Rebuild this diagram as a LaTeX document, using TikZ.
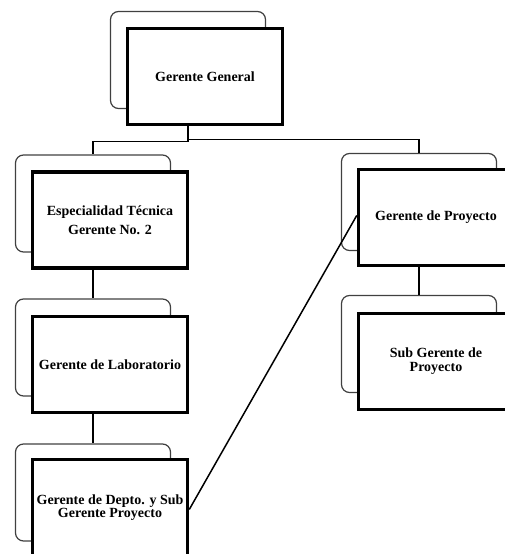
\documentclass[tikz,border=0pt]{standalone}
\usepackage{fontspec}
\setmainfont{Liberation Serif}
\usepackage{tikz}

\begin{document}
\begin{tikzpicture}[x = 1pt, y = 1pt,
                        back/.style = {rectangle, draw = black!75, line width = 1.2pt, rounded corners = 8pt,
                                       minimum width = 155pt, minimum height = 97pt},
                        front/.style = {rectangle, draw, fill = white, line width = 3.5pt, align = center,
                                        minimum width = 155pt, minimum height = 96pt,
                                        font = \fontsize{14}{15}\selectfont\bfseries},
                        link/.style = {line width = 1.5pt}]
      \useasboundingbox (0, 0) rectangle (505, 554);
      \clip (0, 0) rectangle (505, 554);
      \node [back] (ggb) at (188, 494){};
      \node [back] (espb) at (93, 350.5){};
      \node [back] (labb) at (93, 206.5){};
      \node [back] (depb) at (93, 61.5){};
      \node [back] (gpb) at (419, 352){};
      \node [back] (subb) at (419, 210){};
      \node [front] (gg) at (205, 477.5){Gerente General};
      \node [front] (esp) at (110, 334){Especialidad Técnica\\[4pt] Gerente No. 2};
      \node [front] (lab) at (110, 189.5){Gerente de Laboratorio};
      \node [front] (dep) at (110, 46.5){Gerente de Depto. y Sub\\[-2.5pt] Gerente Proyecto};
      \node [front] (gp) at (436, 336.5){Gerente de Proyecto};
      \node [front] (sub) at (436, 192.5){Sub Gerente de\\[-1pt] Proyecto};
      \draw [link] (ggb |- gg.south) -- ++(0, -15.5) -| (espb.north);
      \draw [link] (ggb |- gg.south) -- ++(0, -13.5) -| (gpb.north);
      \draw [link] (espb |- esp.south) -- (labb.north);
      \draw [link] (labb |- lab.south) -- (depb.north);
      \draw [link] (gpb |- gp.south) -- (subb.north);
      \draw [link] ([yshift = -2pt]dep.east) -- ([yshift = 2pt]gp.west);
    \end{tikzpicture}
\end{document}
